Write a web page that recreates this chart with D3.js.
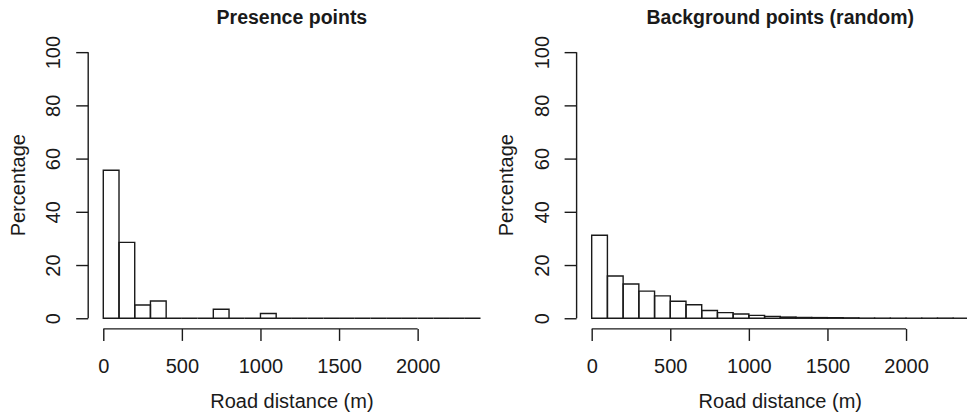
<!DOCTYPE html>
<html>
<head>
<meta charset="utf-8">
<script src="https://cdn.jsdelivr.net/npm/d3@7"></script>
<style>
  html, body { margin: 0; padding: 0; background: #fff; }
  svg { display: block; }
  text { font-family: "Liberation Sans", Arial, Helvetica, sans-serif; fill: #1a1a1a; }
</style>
</head>
<body>
<svg id="chart" width="967" height="418"></svg>
<script>
// ---- data ----
const binWidth = 100;
const binStarts = d3.range(0, 2400, 100);           // 24 bins of 100 m
const presenceValues = [55.6, 28.5, 5.0, 6.5, 0, 0, 0, 3.4, 0, 0, 1.8, 0,
                        0, 0, 0, 0, 0, 0, 0, 0, 0, 0, 0, 0];
const backgroundValues = [31.2, 15.9, 12.9, 10.2, 8.4, 6.4, 5.1, 2.9, 2.1, 1.6, 1.1, 0.7,
                          0.45, 0.3, 0.25, 0.2, 0.15, 0.05, 0.04, 0.03, 0.02, 0.03, 0.05, 0.02];
const xTicks = [0, 500, 1000, 1500, 2000];
const yTicks = [0, 20, 40, 60, 80, 100];
const titles = ["Presence points", "Background points (random)"];
const xLabel = "Road distance (m)";
const yLabel = "Percentage";

// ---- layout ----
const svg = d3.select("#chart");
const ink = "#1a1a1a";
const panelOffsets = [0, 488.4];
const plotLeft = 88.2, plotRight = 495.6, plotTop = 41.5, plotBottom = 328.9;
const fmt = d3.format("d");

function drawPanel(ox, values, title) {
  const g = svg.append("g").attr("transform", `translate(${ox},0)`);
  const x = d3.scaleLinear().domain([-96, 2496]).range([plotLeft, plotRight]);
  const y = d3.scaleLinear().domain([-4, 104]).range([plotBottom, plotTop]);

  // bars (drawn as paths so zero-height bins still show as a line)
  const bins = binStarts.map((s, i) => ({ x0: s, x1: s + binWidth, v: values[i] }));
  g.append("g").selectAll("path").data(bins).join("path")
    .attr("d", d => {
      const p = d3.path();
      p.moveTo(x(d.x0), y(0));
      p.lineTo(x(d.x0), y(d.v));
      p.lineTo(x(d.x1), y(d.v));
      p.lineTo(x(d.x1), y(0));
      p.closePath();
      return p.toString();
    })
    .attr("fill", "none")
    .attr("stroke", ink)
    .attr("stroke-width", 1.4);

  // x axis
  const xAxis = g.append("g").attr("transform", `translate(0,${plotBottom})`)
    .call(d3.axisBottom(x).tickValues(xTicks).tickFormat(fmt).tickSize(12).tickSizeOuter(0));
  xAxis.select(".domain").remove();
  xAxis.append("line")
    .attr("x1", x(xTicks[0])).attr("x2", x(xTicks[xTicks.length - 1]))
    .attr("y1", 0).attr("y2", 0);
  xAxis.selectAll("line").attr("stroke", ink).attr("stroke-width", 1.4);
  xAxis.selectAll("text")
    .attr("y", 44.6).attr("dy", 0)
    .attr("font-size", 20).attr("fill", ink)
    .style("font-family", "'Liberation Sans', Arial, sans-serif");

  // y axis
  const yAxis = g.append("g").attr("transform", `translate(${plotLeft},0)`)
    .call(d3.axisLeft(y).tickValues(yTicks).tickFormat(fmt).tickSize(12).tickSizeOuter(0));
  yAxis.select(".domain").remove();
  yAxis.append("line")
    .attr("x1", 0).attr("x2", 0)
    .attr("y1", y(yTicks[0])).attr("y2", y(yTicks[yTicks.length - 1]));
  yAxis.selectAll("line").attr("stroke", ink).attr("stroke-width", 1.4);
  yAxis.selectAll("text")
    .attr("x", 0).attr("y", 0).attr("dy", 0)
    .attr("transform", "translate(-28,0) rotate(-90)")
    .attr("text-anchor", "middle")
    .attr("font-size", 20).attr("fill", ink)
    .style("font-family", "'Liberation Sans', Arial, sans-serif");

  const cx = (plotLeft + plotRight) / 2;
  const cy = (plotTop + plotBottom) / 2;

  // title
  g.append("text")
    .attr("x", cx).attr("y", 23.5)
    .attr("text-anchor", "middle")
    .attr("font-size", 19.5).attr("font-weight", "bold")
    .text(title);

  // axis labels
  g.append("text")
    .attr("x", cx).attr("y", 407.5)
    .attr("text-anchor", "middle")
    .attr("font-size", 20)
    .text(xLabel);

  g.append("text")
    .attr("transform", `translate(25,${cy}) rotate(-90)`)
    .attr("text-anchor", "middle")
    .attr("font-size", 20)
    .text(yLabel);
}

drawPanel(panelOffsets[0], presenceValues, titles[0]);
drawPanel(panelOffsets[1], backgroundValues, titles[1]);
</script>
</body>
</html>
